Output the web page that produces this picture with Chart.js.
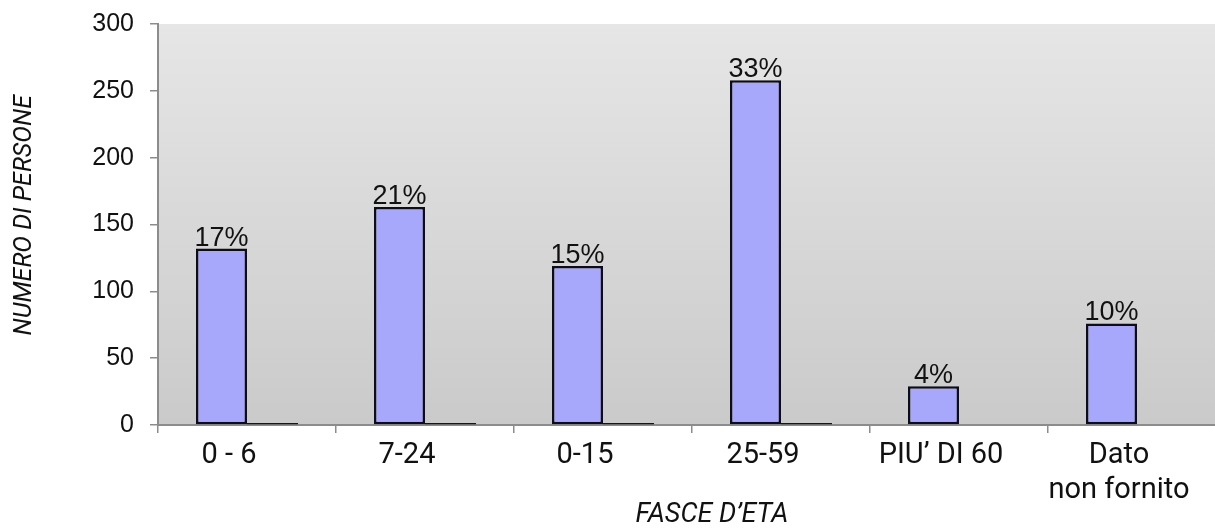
<!DOCTYPE html>
<html>
<head>
<meta charset="utf-8">
<script src="https://cdn.jsdelivr.net/npm/chart.js@4.4.1/dist/chart.umd.min.js"></script>
<style>
    html, body { margin: 0; padding: 0; background: #fff; overflow: hidden; }
    #chart-container { position: relative; width: 1226px; height: 529px; }
</style>
</head>
<body>
<div id="chart-container"><canvas id="fasce_eta_chart"></canvas></div>
<script>
'use strict';
// data
const categories = ['0 - 6', '7-24', '0-15', '25-59', 'PIU’ DI 60', ['Dato', 'non fornito']];
const persone = [132, 163, 119, 258, 29, 76];
const serieVuota = [0, 0, 0, 0, null, null];
const percentuali = ['17%', '21%', '15%', '33%', '4%', '10%'];
const yTicks = [0, 50, 100, 150, 200, 250, 300];

const axisColor = '#8c8c8c';
const titleFont = "'Liberation Sans Narrow', 'Roboto', sans-serif";

// gray gradient behind the plot area
const plotBackground = {
    id: 'plotBackground',
    beforeDraw: (chart) => {
        const {ctx, chartArea: a} = chart;
        let grad = ctx.createLinearGradient(0, a.top, 0, a.bottom);
        grad.addColorStop(0, '#e6e6e6');
        grad.addColorStop(1, '#cacaca');
        ctx.save();
        ctx.fillStyle = grad;
        ctx.fillRect(a.left, a.top, a.right - a.left, a.bottom - a.top);
        ctx.restore();
    },
};

// percentage above each bar of the first series
const barLabels = {
    id: 'barLabels',
    afterDatasetsDraw: (chart) => {
        const ctx = chart.ctx;
        const meta = chart.getDatasetMeta(0);
        ctx.save();
        ctx.font = "27px 'Liberation Sans', Arial, sans-serif";
        ctx.fillStyle = '#111';
        ctx.textAlign = 'center';
        ctx.textBaseline = 'alphabetic';
        meta.data.forEach((bar, i) => {
            ctx.fillText(percentuali[i], bar.x, bar.y - 3);
        });
        ctx.restore();
    },
};

let ctx = document.getElementById('fasce_eta_chart').getContext('2d');

new Chart(ctx, {
    type: 'bar',
    data: {
        labels: categories,
        datasets: [
            {
                data: persone,
                backgroundColor: '#a7a7fb',
                borderColor: '#0c0c1c',
                borderWidth: 2.5,
                borderSkipped: false,
                categoryPercentage: 0.573,
                barPercentage: 1,
            },
            {
                data: serieVuota,
                backgroundColor: '#151515',
                borderWidth: 0,
                minBarLength: 2,
                categoryPercentage: 0.573,
                barPercentage: 1,
            }],
    },
    options: {
        responsive: true,
        maintainAspectRatio: false,
        animation: false,
        layout: {
            padding: {top: 24, right: 0, bottom: 0, left: 0},
        },
        plugins: {
            legend: {display: false},
            tooltip: {enabled: false},
        },
        scales: {
            x: {
                afterFit: (scale) => { scale.height = 104; },
                grid: {
                    display: true,
                    drawOnChartArea: false,
                    tickLength: 8,
                    color: axisColor,
                    lineWidth: 1.5,
                },
                border: {display: true, color: axisColor, width: 2},
                ticks: {
                    color: '#111',
                    padding: 6,
                    labelOffset: -18,
                    maxRotation: 0,
                    autoSkip: false,
                    font: {family: 'Roboto', size: 29, lineHeight: 1.18},
                },
                title: {
                    display: true,
                    text: '      FASCE D’ETA',
                    color: '#111',
                    font: {family: titleFont, size: 27, style: 'italic', lineHeight: 1},
                    padding: {top: 0, bottom: 0},
                },
            },
            y: {
                min: 0,
                max: 300,
                afterFit: (scale) => {
                    scale.width = 158;
                    // labels sit inside the top padding, don't push the plot down
                    scale.paddingTop = 0;
                    scale.paddingBottom = 0;
                },
                afterBuildTicks: (axis) => {
                    axis.ticks = yTicks.map(v => ({value: v}));
                },
                grid: {
                    display: true,
                    drawOnChartArea: false,
                    tickLength: 8,
                    color: axisColor,
                    lineWidth: 1.5,
                },
                border: {display: true, color: axisColor, width: 2},
                ticks: {
                    color: '#111',
                    padding: 16,
                    font: {family: "'Liberation Sans', Arial, sans-serif", size: 25},
                },
                title: {
                    display: true,
                    text: '   NUMERO DI PERSONE',
                    color: '#111',
                    font: {family: titleFont, size: 25, style: 'italic', lineHeight: 1.2},
                    padding: {top: 10, bottom: 0},
                },
            },
        },
    },
    plugins: [plotBackground, barLabels],
});
</script>
</body>
</html>
